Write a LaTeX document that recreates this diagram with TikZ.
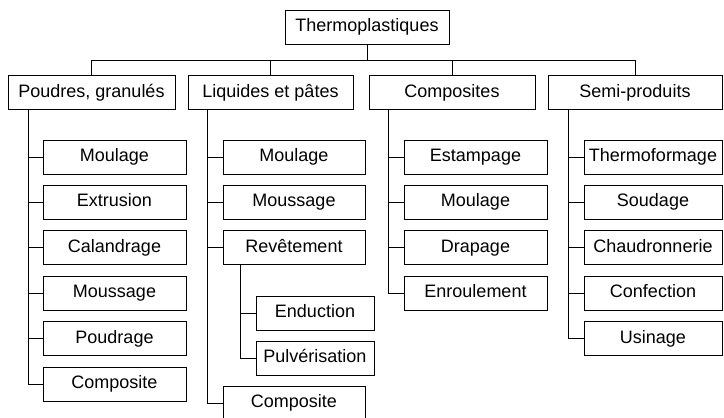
\documentclass[tikz,border=0pt]{standalone}
\usepackage{fontspec}
\setmainfont{Liberation Sans}
\usetikzlibrary{positioning}

\tikzset{
  boite/.style={draw, line width=1pt, minimum height=34pt, inner sep=0pt,
    text height=12.5pt, text depth=3.5pt, font=\fontsize{18}{20}\selectfont},
  lien/.style={line width=1pt},
}

\begin{document}
\begin{tikzpicture}[x=1pt,y=-1pt]
  \useasboundingbox (0,0) rectangle (724,418);
  \pgfmathsetmacro{\pas}{45.4}

  % racine et familles
  \node[boite, minimum width=164pt] (racine) at (367,27) {Thermoplastiques};
  \node[boite, minimum width=167pt] (pg) at (91.5,92.5) {Poudres, granulés};
  \node[boite, minimum width=165pt] (lp) at (270.5,92.5) {Liquides et pâtes};
  \node[boite, minimum width=166pt] (co) at (452,92.5) {Composites};
  \node[boite, minimum width=174pt] (sp) at (635,92.5) {Semi-produits};

  \draw[lien] (racine.south) -- ++(0,16) coordinate (bus);
  \foreach \b in {pg,lp,co,sp}{
    \draw[lien] (bus) -| (\b.north);
  }

  % Poudres, granules
  \foreach \nom [count=\i from 0] in {Moulage,Extrusion,Calandrage,Moussage,Poudrage,Composite}{
    \node[boite, minimum width=143pt] (pg\i) at (114.5,{157+\pas*\i}) {\nom};
    \draw[lien] ([xshift=21pt]pg.south west) |- (pg\i.west);
  }

  % Liquides et pates
  \foreach \nom [count=\i from 0] in {Moulage,Moussage,Revêtement}{
    \node[boite, minimum width=142pt] (lp\i) at (294,{157+\pas*\i}) {\nom};
    \draw[lien] ([xshift=20pt]lp.south west) |- (lp\i.west);
  }
  \node[boite, minimum width=142pt] (lp3) at (294,403) {Composite};
  \draw[lien] ([xshift=20pt]lp.south west) |- (lp3.west);
  \foreach \nom [count=\i from 0] in {Enduction,Pulvérisation}{
    \node[boite, minimum width=118pt] (rv\i) at (315,{313+\pas*\i}) {\nom};
    \draw[lien] ([xshift=18pt]lp2.south west) |- (rv\i.west);
  }

  % Composites
  \foreach \nom [count=\i from 0] in {Estampage,Moulage,Drapage,Enroulement}{
    \node[boite, minimum width=143pt] (co\i) at (475.5,{157+\pas*\i}) {\nom};
    \draw[lien] ([xshift=20pt]co.south west) |- (co\i.west);
  }

  % Semi-produits
  \foreach \nom [count=\i from 0] in {Thermoformage,Soudage,Chaudronnerie,Confection,Usinage}{
    \node[boite, minimum width=138pt] (sp\i) at (653,{157+\pas*\i}) {\nom};
    \draw[lien] ([xshift=21pt]sp.south west) |- (sp\i.west);
  }
\end{tikzpicture}
\end{document}
